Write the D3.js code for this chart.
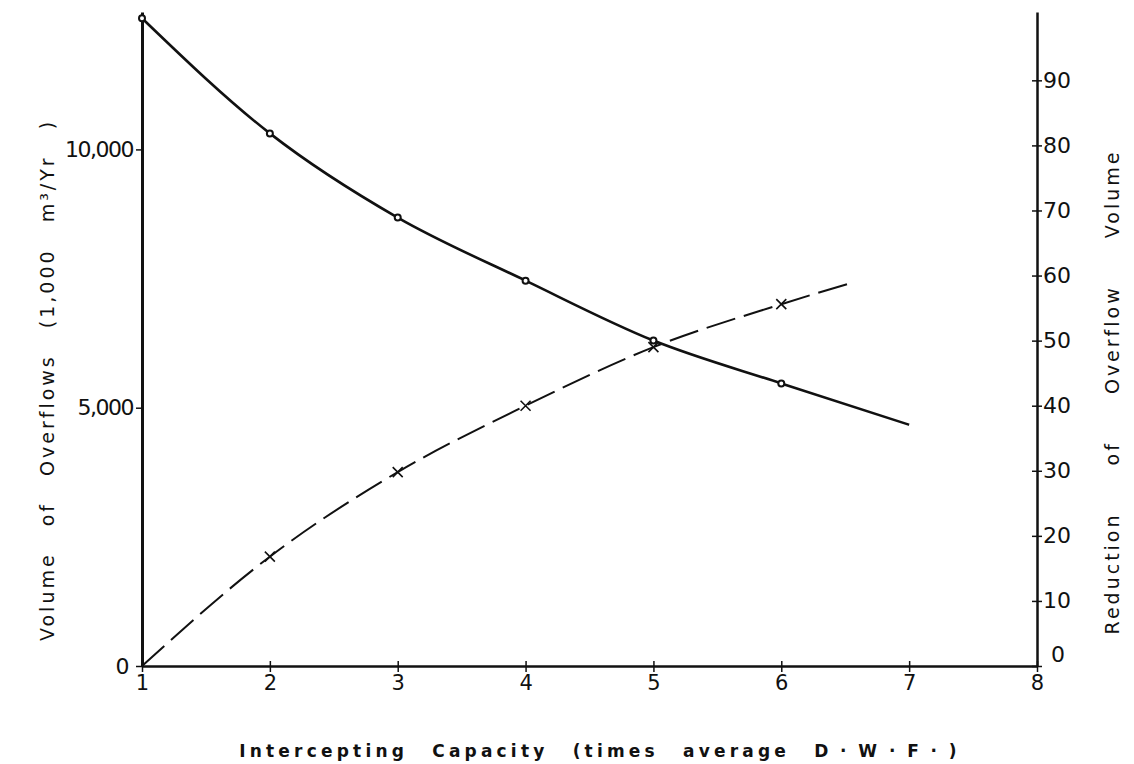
<!DOCTYPE html>
<html>
<head>
<meta charset="utf-8">
<script src="https://cdn.jsdelivr.net/npm/d3@7"></script>
<style>
  body { margin: 0; background: #fff; }
  text { font-family: "DejaVu Sans", sans-serif; fill: #111; }
  .tick line, .domain { stroke: #111; }
</style>
</head>
<body>
<div id="chart"></div>
<script>
// intercepting capacity (times average DWF) vs volume of overflows (1,000 m3/yr)
var capacity = [1, 2, 3, 4, 5, 6, 7];
var overflowVolume = [12540, 10310, 8680, 7460, 6300, 5470, 4670];

// reduction of overflow volume (%), dashed curve
var reductionCapacity = [1, 2, 3, 4, 5, 6, 6.57];
var reduction = [0, 16.8, 29.8, 40.0, 49.0, 55.6, 59.0];

var xTicks = [1, 2, 3, 4, 5, 6, 7, 8];
var leftTicks = [0, 5000, 10000];
var rightTicks = [0, 10, 20, 30, 40, 50, 60, 70, 80, 90];

var width = 1134,
    height = 764;

var svg = d3.select('#chart')
            .append('svg')
            .attr('width', width)
            .attr('height', height);

var x = d3.scaleLinear().domain([1, 8]).range([142, 1037]);
var yLeft = d3.scaleLinear().domain([0, 12660]).range([666, 12]);
var yRight = d3.scaleLinear().domain([0, 100.5]).range([666, 12]);

// bottom axis, ticks cross the line
var gx = svg.append('g')
            .attr('transform', 'translate(0,' + yLeft(0) + ')')
            .call(d3.axisBottom(x).tickValues(xTicks).tickFormat(d3.format('d'))
                    .tickSize(6).tickSizeOuter(0).tickPadding(3));
gx.selectAll('.tick line').attr('y1', -5).attr('stroke-width', 1.5);
gx.selectAll('.tick text').attr('font-size', 21);
gx.select('.domain').attr('stroke-width', 2.5);

// left axis
var gl = svg.append('g')
            .attr('transform', 'translate(' + x(1) + ',0)')
            .call(d3.axisLeft(yLeft).tickValues(leftTicks).tickFormat(d3.format(','))
                    .tickSize(6).tickSizeOuter(0).tickPadding(3));
gl.selectAll('.tick line').attr('stroke-width', 1.5);
gl.selectAll('.tick text').attr('font-size', 22).attr('letter-spacing', -1.5);
gl.selectAll('.tick text').filter(function(d) { return d === 0; }).attr('x', -14);
gl.select('.domain').attr('stroke-width', 3);

// right axis
var gr = svg.append('g')
            .attr('transform', 'translate(' + x(8) + ',0)')
            .call(d3.axisRight(yRight).tickValues(rightTicks).tickSize(5).tickSizeOuter(0).tickPadding(1));
gr.selectAll('.tick line').attr('x1', -5).attr('stroke-width', 1.5);
gr.selectAll('.tick text').attr('font-size', 22);
gr.selectAll('.tick text').filter(function(d) { return d === 0; }).attr('x', 14).attr('dy', '-0.2em');
gr.select('.domain').attr('stroke-width', 2.5);

// solid curve
var solidLine = d3.line()
                  .x(function(d, i) { return x(capacity[i]); })
                  .y(function(d) { return yLeft(d); })
                  .curve(d3.curveMonotoneX);

svg.append('path')
   .datum(overflowVolume)
   .attr('fill', 'none')
   .attr('stroke', '#111')
   .attr('stroke-width', 2.6)
   .attr('d', solidLine);

// dashed curve
var dashLine = d3.line()
                 .x(function(d, i) { return x(reductionCapacity[i]); })
                 .y(function(d) { return yRight(d); })
                 .curve(d3.curveMonotoneX);

svg.append('path')
   .datum(reduction)
   .attr('fill', 'none')
   .attr('stroke', '#111')
   .attr('stroke-width', 2)
   .attr('stroke-dasharray', '30,9')
   .attr('d', dashLine);

// circle markers on the solid curve (not on the end point)
svg.selectAll('circle.pt')
   .data(overflowVolume.slice(0, 6))
   .enter()
   .append('circle')
   .attr('class', 'pt')
   .attr('cx', function(d, i) { return x(capacity[i]); })
   .attr('cy', function(d) { return yLeft(d); })
   .attr('r', 3)
   .attr('fill', '#fff')
   .attr('stroke', '#111')
   .attr('stroke-width', 2);

// cross markers on the dashed curve
var crosses = svg.selectAll('g.cross')
                 .data(reduction.slice(1, 6))
                 .enter()
                 .append('g')
                 .attr('class', 'cross')
                 .attr('transform', function(d, i) {
                   return 'translate(' + x(reductionCapacity[i + 1]) + ',' + yRight(d) + ')';
                 });
crosses.append('path')
       .attr('d', 'M-5,-5L5,5M-5,5L5,-5')
       .attr('stroke', '#111')
       .attr('stroke-width', 1.6);

// axis titles
svg.append('text')
   .attr('x', 600)
   .attr('y', 757)
   .attr('text-anchor', 'middle')
   .attr('font-size', 17)
   .attr('font-weight', 'bold')
   .attr('letter-spacing', 4.2)
   .style('word-spacing', '14px')
   .text('Intercepting Capacity (times average D\u2009·\u2009W\u2009·\u2009F\u2009·\u2009)');

svg.append('text')
   .attr('transform', 'translate(54,380) rotate(-90)')
   .attr('text-anchor', 'middle')
   .attr('font-size', 19)
   .attr('letter-spacing', 3)
   .style('word-spacing', '17px')
   .text('Volume of Overflows (1,000 m³/Yr )');

svg.append('text')
   .attr('transform', 'translate(1119,392) rotate(-90)')
   .attr('text-anchor', 'middle')
   .attr('font-size', 19)
   .attr('letter-spacing', 3)
   .style('word-spacing', '38px')
   .text('Reduction of Overflow Volume');
</script>
</body>
</html>
